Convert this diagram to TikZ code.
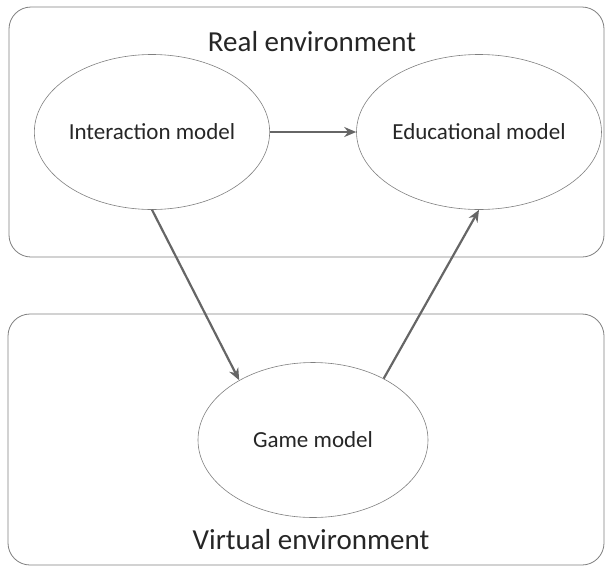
\documentclass[tikz,border=0pt]{standalone}
\usepackage{fontspec}
\setmainfont{Carlito}
\usepackage{xcolor}
\usetikzlibrary{arrows.meta, positioning, shapes.geometric}
\definecolor{linegray}{HTML}{666666}
\definecolor{boxgray}{HTML}{7F7F7F}
\definecolor{textdark}{HTML}{262626}

\begin{document}
\begin{tikzpicture}[x=1pt, y=-1pt, >={Stealth[length=12pt, width=10pt]},
		envbox/.style={draw=boxgray, line width=0.8pt, rounded corners=22pt},
		model/.style={ellipse, draw=boxgray, line width=0.6pt, minimum width=230pt, minimum height=155pt, inner sep=0pt, text=textdark, font=\fontsize{23}{27}\selectfont},
		envlabel/.style={text=textdark, font=\fontsize{29}{34}\selectfont},
		link/.style={->, linegray, line width=2.2pt}]
	\useasboundingbox (0,0) rectangle (608,566);
	
	% environments
	\draw[envbox] (9,7) rectangle (604,257);
	\draw[envbox] (8,314) rectangle (604,565);
	\node[envlabel] (realenv) at (312,42) {Real environment};
	\node[envlabel] (virtenv) at (311,540) {Virtual environment};
	
	% models
	\node[model] (inter) at (152,132) {Interaction model};
	\node[model] (edu) at (479,132) {Educational model};
	\node[model] (game) at (313,440) {Game model};
	
	\draw[link] (inter) -- (edu);
	\draw[link] (inter.south) -- (game.141);
	\draw[link] (game.41) -- (edu.south);
\end{tikzpicture}
\end{document}
